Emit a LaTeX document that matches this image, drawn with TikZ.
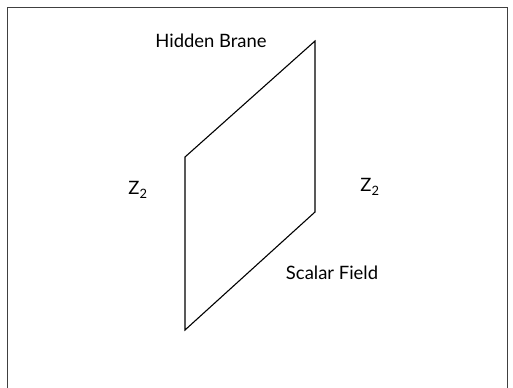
\documentclass[tikz,border=0pt]{standalone}
\usepackage{fontspec}
\setmainfont{Lato}
\begin{document}
\begin{tikzpicture}[x=1bp,y=-1bp,
  lbl/.style={inner sep=0pt, font=\fontsize{18.5}{22}\selectfont},
  brane/.style={line width=1.1bp, line join=miter}]
\useasboundingbox (0,0) rectangle (513,387);
\draw[line width=0.8bp, black!75] (7,400) -- (7,7) -- (507,7) -- (507,400);
\coordinate (p1) at (185,157);
\coordinate (p2) at (315,41);
\coordinate (p3) at (315,212);
\coordinate (p4) at (185,330);
\draw[brane] (p1) -- (p2) -- (p3) -- (p4) -- cycle;
\node[lbl] (hb) at (211,41) {Hidden Brane};
\node[lbl] (zl) at (138,190) {Z\textsubscript{2}};
\node[lbl] (zr) at (370,187) {Z\textsubscript{2}};
\node[lbl] (sf) at (332,273) {Scalar Field};
\end{tikzpicture}
\end{document}
